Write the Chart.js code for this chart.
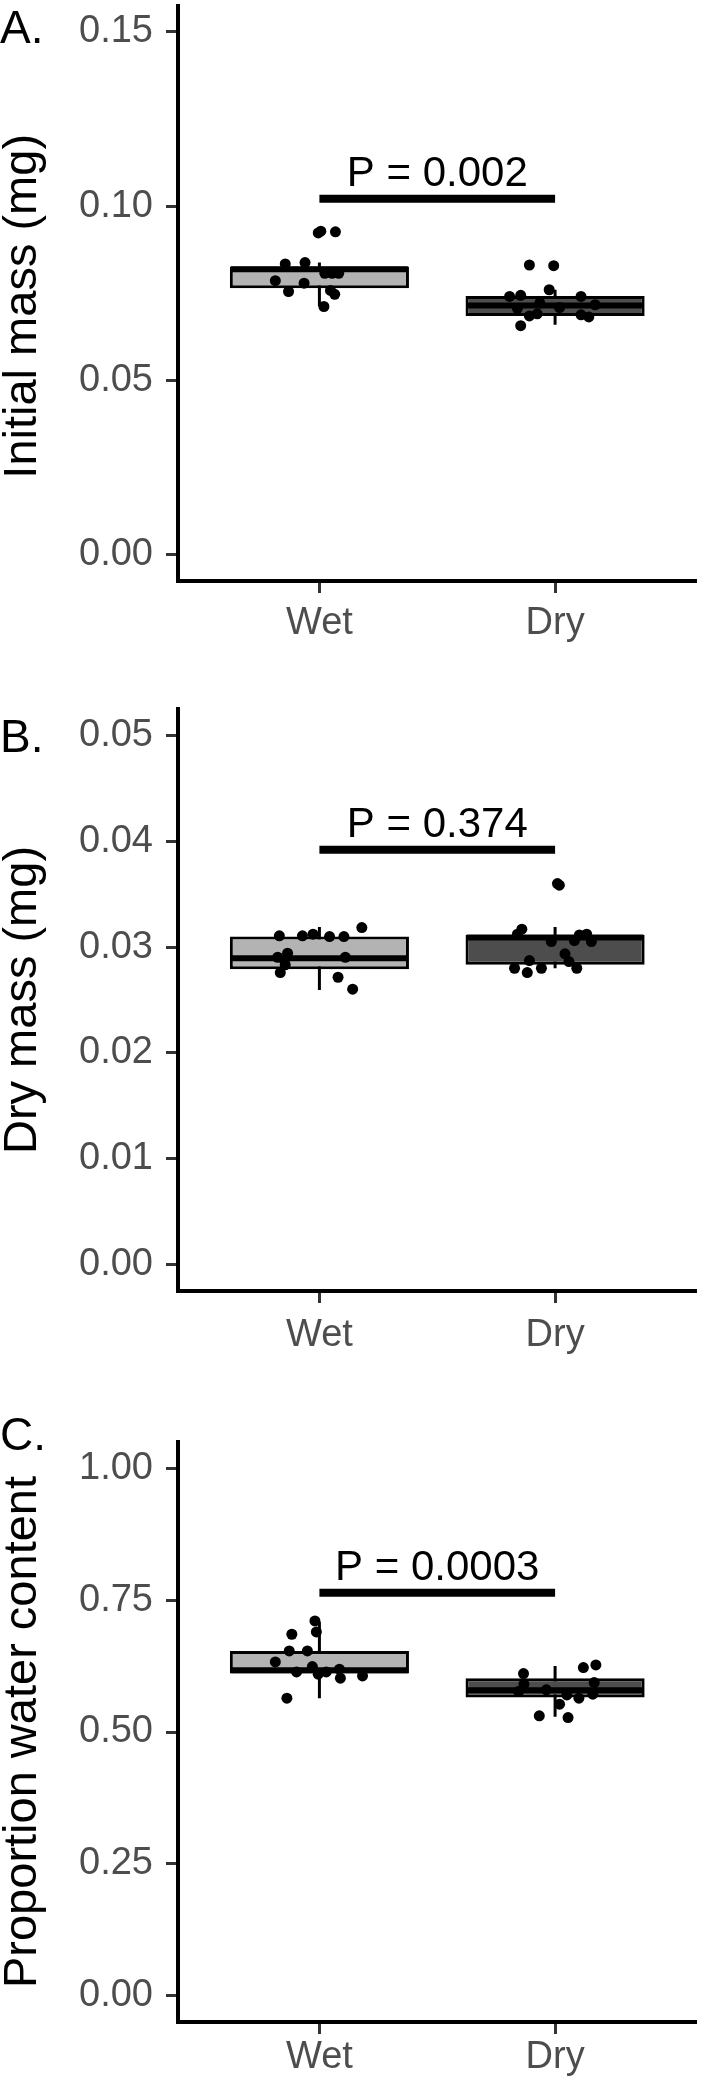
<!DOCTYPE html>
<html>
<head>
<meta charset="utf-8">
<script src="https://cdn.jsdelivr.net/npm/chart.js@4"></script>
<style>
  html, body { margin: 0; padding: 0; background: #fff; }
  body { width: 702px; height: 2084px; position: relative; overflow: hidden; font-family: "Liberation Sans", Arial, sans-serif; }
  .panel { position: absolute; left: 0; width: 702px; }
  .tag { position: absolute; left: 0; font-size: 46px; line-height: 1; color: #000; }
</style>
</head>
<body>
<div class="panel" style="top:0px"><canvas id="chartA" width="702" height="700"></canvas></div>
<div class="panel" style="top:700px"><canvas id="chartB" width="702" height="700"></canvas></div>
<div class="panel" style="top:1400px"><canvas id="chartC" width="702" height="684"></canvas></div>
<div class="tag" style="top:4px">A.</div>
<div class="tag" style="top:713px">B.</div>
<div class="tag" style="top:1411px">C.</div>
<script>
const categories = ['Wet', 'Dry'];

// A. initial mass (mg)
const massWetA = [0.0923, 0.0926, 0.0928, 0.0834, 0.0838, 0.0807, 0.0807, 0.0807, 0.0786, 0.0779, 0.0755, 0.0758, 0.0747, 0.0712];
const jitWetA  = [-0.005, 0.068, 0.006, -0.145, -0.061, 0.023, 0.054, 0.082, -0.187, -0.065, -0.131, 0.047, 0.065, 0.019];
const massDryA = [0.0831, 0.0829, 0.0760, 0.0741, 0.0744, 0.0707, 0.0722, 0.0709, 0.0741, 0.0717, 0.0685, 0.0691, 0.0688, 0.0682, 0.0657];
const jitDryA  = [-0.109, -0.006, -0.025, -0.193, -0.146, -0.160, -0.065, 0.019, 0.110, 0.170, -0.109, -0.076, 0.110, 0.143, -0.146];
// min, q1, median, q3, max
const boxWetA = [0.0713, 0.0764, 0.0819, 0.0827, 0.0838];
const boxDryA = [0.0660, 0.0685, 0.0715, 0.0742, 0.0760];
const yTicksA = [0, 0.05, 0.10, 0.15];
const yLabelsA = ['0.00', '0.05', '0.10', '0.15'];

// B. dry mass (mg)
const massWetB = [0.03106, 0.03106, 0.03122, 0.03099, 0.03099, 0.03185, 0.02942, 0.02904, 0.02904, 0.02832, 0.02759, 0.02715, 0.02602, 0.02879];
const jitWetB  = [-0.170, -0.072, -0.027, 0.043, 0.104, 0.180, -0.135, -0.177, 0.110, -0.145, -0.166, 0.079, 0.141, -0.149];
const massDryB = [0.03169, 0.03122, 0.03052, 0.03062, 0.03115, 0.03122, 0.03052, 0.02936, 0.02863, 0.02873, 0.02800, 0.02759, 0.02800, 0.02800, 0.03600, 0.03585];
const jitDryB  = [-0.141, -0.160, -0.016, 0.082, 0.103, 0.134, 0.154, 0.042, 0.059, -0.109, -0.172, -0.118, -0.058, 0.092, 0.010, 0.018];
const boxWetB = [0.02595, 0.0279, 0.02895, 0.0310, 0.0319];
const boxDryB = [0.0280, 0.02832, 0.0309, 0.03115, 0.0319];
const yTicksB = [0, 0.01, 0.02, 0.03, 0.04, 0.05];
const yLabelsB = ['0.00', '0.01', '0.02', '0.03', '0.04', '0.05'];

// C. proportion water content
const waterWetC = [0.7106, 0.6898, 0.6854, 0.6538, 0.6538, 0.6329, 0.6240, 0.6140, 0.6096, 0.6140, 0.6191, 0.6021, 0.6064, 0.5641];
const jitWetC   = [-0.019, -0.013, -0.117, -0.128, -0.051, -0.187, -0.030, -0.097, -0.005, 0.029, 0.085, 0.089, 0.183, -0.138];
const waterDryC = [0.6108, 0.5907, 0.5767, 0.5799, 0.5704, 0.5641, 0.6222, 0.6272, 0.5937, 0.5717, 0.5528, 0.5306, 0.5274];
const jitDryC   = [-0.134, -0.132, -0.155, -0.037, 0.050, 0.101, 0.120, 0.173, 0.166, 0.160, 0.019, -0.067, 0.055];
const boxWetC = [0.5641, 0.6108, 0.6170, 0.6538, 0.7093];
const boxDryC = [0.5287, 0.5653, 0.5793, 0.6021, 0.6254];
const yTicksC = [0, 0.25, 0.50, 0.75, 1.00];
const yLabelsC = ['0.00', '0.25', '0.50', '0.75', '1.00'];

// significance bars and labels
const sigY = [0.1021, 0.0392, 0.764];
const sigLabels = ['P = 0.002', 'P = 0.374', 'P = 0.0003'];

const FONT = '"Liberation Sans", Arial, sans-serif';
const boxFills = ['#B3B3B3', '#4D4D4D'];
const boxHalf = 0.375;

const pLabelPlugin = {
    id: 'pLabel',
    afterDatasetsDraw(chart, args, opts) {
        const { ctx, scales: { x, y } } = chart;
        ctx.save();
        ctx.font = '42px ' + FONT;
        ctx.fillStyle = '#000';
        ctx.textAlign = 'center';
        ctx.textBaseline = 'alphabetic';
        ctx.fillText(opts.text, x.getPixelForValue(1.5), y.getPixelForValue(opts.y) - 13);
        ctx.restore();
    }
};

function pointsFrom(vals, jit, pos) {
    return vals.map((v, i) => ({ x: pos + jit[i], y: v }));
}

function buildPanel(id, p) {
    const datasets = [];
    // whiskers (box is drawn over the middle part)
    [p.boxWet, p.boxDry].forEach((b, i) => {
        datasets.push({
            type: 'scatter', showLine: true, order: 4,
            data: [{ x: i + 1, y: b[0] }, { x: i + 1, y: b[4] }],
            borderColor: '#000', borderWidth: 3, pointRadius: 0
        });
    });
    datasets.push({
        type: 'bar', order: 3,
        data: [{ x: 1, y: [p.boxWet[1], p.boxWet[3]] }, { x: 2, y: [p.boxDry[1], p.boxDry[3]] }],
        backgroundColor: boxFills, borderColor: '#000', borderWidth: 3, borderSkipped: false,
        barPercentage: 0.76, categoryPercentage: 1
    });
    // medians
    [p.boxWet, p.boxDry].forEach((b, i) => {
        datasets.push({
            type: 'scatter', showLine: true, order: 2,
            data: [{ x: i + 1 - boxHalf, y: b[2] }, { x: i + 1 + boxHalf, y: b[2] }],
            borderColor: '#000', borderWidth: 6, pointRadius: 0, borderCapStyle: 'butt'
        });
    });
    datasets.push({
        type: 'scatter', showLine: true, order: 1,
        data: [{ x: 1, y: p.sig }, { x: 2, y: p.sig }],
        borderColor: '#000', borderWidth: 8, pointRadius: 0, borderCapStyle: 'butt'
    });
    datasets.push({
        type: 'scatter', order: 0,
        data: pointsFrom(p.wet, p.jitWet, 1).concat(pointsFrom(p.dry, p.jitDry, 2)),
        backgroundColor: '#000', borderWidth: 0, pointRadius: 5.5
    });

    new Chart(document.getElementById(id), {
        type: 'scatter',
        data: { datasets: datasets },
        plugins: [pLabelPlugin],
        options: {
            responsive: false,
            animation: false,
            devicePixelRatio: 1,
            layout: { padding: { top: p.padTop, left: 0, right: 0, bottom: 0 } },
            plugins: {
                legend: { display: false },
                tooltip: { enabled: false },
                pLabel: { text: p.label, y: p.sig }
            },
            scales: {
                x: {
                    type: 'linear', min: 0.4, max: 2.6, offset: false,
                    afterBuildTicks: s => { s.ticks = [1, 2].map(v => ({ value: v })); },
                    afterFit: s => { s.height = p.xHeight; s.paddingLeft = 0; s.paddingRight = 0; },
                    ticks: {
                        callback: (v, i) => categories[i],
                        font: { size: 38, family: FONT }, color: '#4D4D4D',
                        padding: p.xPad, maxRotation: 0, autoSkip: false
                    },
                    grid: { offset: false, drawOnChartArea: false, drawTicks: true, tickLength: 12, tickWidth: 3, tickColor: '#333333' },
                    border: { display: true, color: '#000', width: 4 }
                },
                y: {
                    type: 'linear', min: p.yMin, max: p.yMax,
                    afterBuildTicks: s => { s.ticks = p.yTicks.map(v => ({ value: v })); },
                    afterFit: s => { s.width = 178; s.paddingTop = 0; s.paddingBottom = 0; },
                    ticks: {
                        callback: (v, i) => p.yLabels[i],
                        font: { size: 38, family: FONT }, color: '#4D4D4D', padding: 13
                    },
                    grid: { offset: false, drawOnChartArea: false, drawTicks: true, tickLength: 12, tickWidth: 3, tickColor: '#333333' },
                    border: { display: true, color: '#000', width: 4 },
                    title: {
                        display: true, text: p.title, color: '#000',
                        font: { size: 47, family: FONT, lineHeight: 1 },
                        padding: { top: 0, bottom: 0 }
                    }
                }
            }
        }
    });
}

buildPanel('chartA', {
    wet: massWetA, jitWet: jitWetA, dry: massDryA, jitDry: jitDryA,
    boxWet: boxWetA, boxDry: boxDryA, yTicks: yTicksA, yLabels: yLabelsA,
    yMin: -0.0075, yMax: 0.1575, sig: sigY[0], label: sigLabels[0],
    title: 'Initial mass (mg)  ', padTop: 0, xHeight: 119, xPad: 8
});
buildPanel('chartB', {
    wet: massWetB, jitWet: jitWetB, dry: massDryB, jitDry: jitDryB,
    boxWet: boxWetB, boxDry: boxDryB, yTicks: yTicksB, yLabels: yLabelsB,
    yMin: -0.0025, yMax: 0.0525, sig: sigY[1], label: sigLabels[1],
    title: 'Dry mass (mg)', padTop: 9, xHeight: 109, xPad: 10
});
buildPanel('chartC', {
    wet: waterWetC, jitWet: jitWetC, dry: waterDryC, jitDry: jitDryC,
    boxWet: boxWetC, boxDry: boxDryC, yTicks: yTicksC, yLabels: yLabelsC,
    yMin: -0.05, yMax: 1.05, sig: sigY[2], label: sigLabels[2],
    title: 'Proportion water content', padTop: 42, xHeight: 62, xPad: 1
});
</script>
</body>
</html>
